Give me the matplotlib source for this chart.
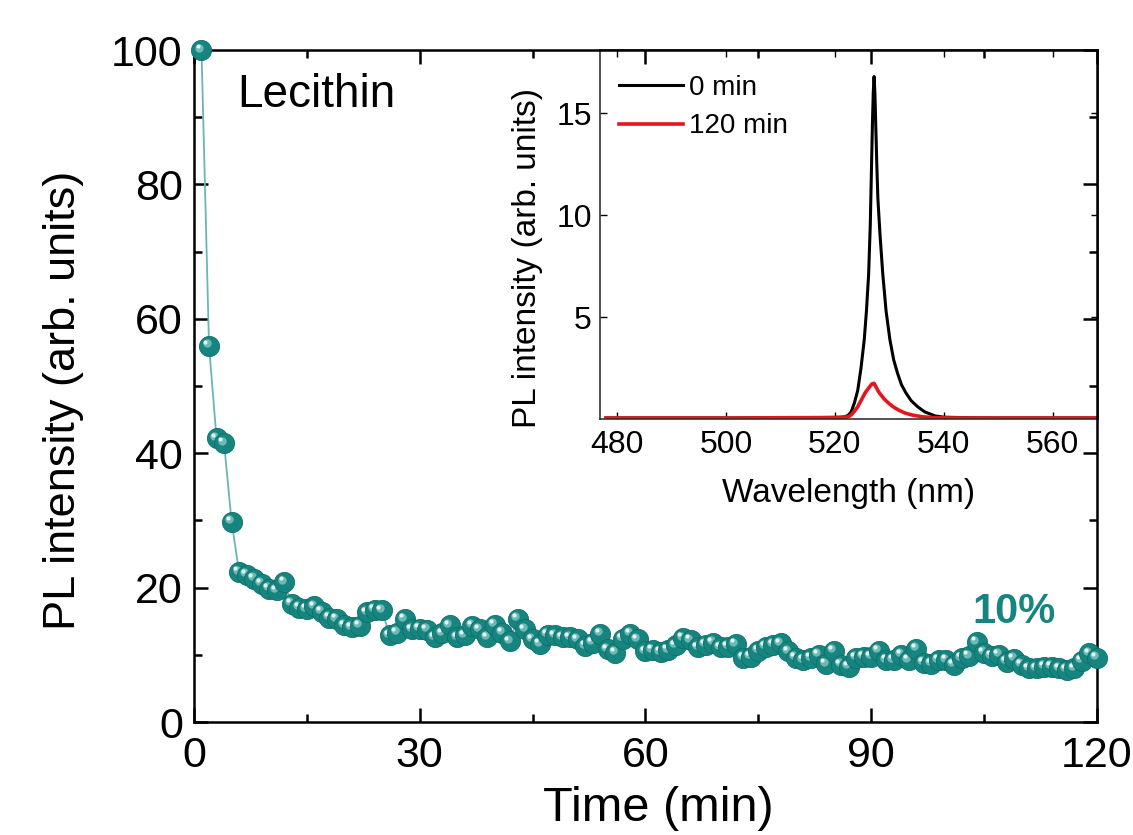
import matplotlib
matplotlib.use("Agg")
import matplotlib.pyplot as plt
from matplotlib.transforms import ScaledTranslation

plt.rcParams['font.family'] = ['Liberation Sans', 'DejaVu Sans']

# ---- main series: PL intensity vs time ----
time_min = list(range(1, 121))
pl_intensity = [
    100, 56, 42.2, 41.5, 29.8, 22.3, 21.9, 21.3, 20.6, 19.8,
    19.6, 20.8, 17.6, 17.0, 16.8, 17.2, 16.4, 15.5, 15.3, 14.4,
    14.1, 14.3, 16.3, 16.7, 16.6, 12.9, 13.3, 15.3, 13.8, 13.9,
    13.7, 12.6, 13.2, 14.4, 12.6, 12.9, 14.3, 13.8, 12.6, 14.5,
    13.3, 12.0, 15.4, 13.8, 12.3, 11.6, 13.0, 12.9, 12.6, 12.6,
    12.3, 11.3, 11.8, 13.1, 10.8, 10.3, 12.4, 13.1, 12.3, 10.5,
    10.7, 10.4, 10.7, 11.4, 12.5, 12.2, 11.1, 11.5, 11.8, 11.1,
    11.2, 11.6, 9.6, 9.7, 10.6, 11.2, 11.5, 11.7, 10.5, 9.6,
    9.2, 9.5, 10.0, 8.6, 10.6, 8.5, 8.2, 9.6, 9.7, 9.7,
    10.6, 9.2, 9.2, 10.0, 9.2, 10.9, 8.8, 8.7, 9.2, 9.2,
    8.5, 9.5, 9.8, 11.9, 10.3, 9.8, 10.0, 9.0, 9.4, 8.5,
    8.0, 8.0, 8.2, 8.2, 8.0, 7.8, 8.0, 9.1, 10.2, 9.6,
]

# ---- inset spectra ----
wl_0 = [478, 490, 500, 510, 518, 521, 522, 522.5, 523.0, 523.6, 524.2, 524.8, 525.4,
        525.8, 526.2, 526.5, 526.7, 526.9, 527.05, 527.2, 527.35, 527.5, 527.7, 527.9,
        528.3, 528.8, 529.4, 530.1, 530.8, 531.5, 532.2, 533.0, 534.0, 535.2, 536.5,
        538.4, 540, 545, 550, 560, 570]
pl_0 = [0.05, 0.05, 0.05, 0.05, 0.06, 0.08, 0.12, 0.2, 0.35, 0.8, 1.4, 2.5, 3.9,
        5.3, 7.1, 9.5, 12.0, 14.5, 16.0, 16.8, 16.0, 14.5, 12.5, 10.8,
        9.0, 7.1, 5.3, 3.9, 2.9, 2.25, 1.7, 1.3, 0.9, 0.6, 0.35,
        0.15, 0.09, 0.06, 0.05, 0.05, 0.05]
wl_120 = [478, 490, 500, 510, 518, 522, 522.6, 523.0, 523.6, 524.2, 524.9, 525.6,
          526.3, 526.8, 527.2, 527.6, 528.0, 528.4, 529.1, 529.9, 530.8, 531.7, 532.8,
          534.1, 536.0, 538.4, 545, 555, 570]
pl_120 = [0.05, 0.05, 0.05, 0.06, 0.07, 0.09, 0.13, 0.2, 0.38, 0.6, 0.95, 1.3,
          1.55, 1.72, 1.75, 1.55, 1.35, 1.2, 0.97, 0.77, 0.58, 0.44, 0.3,
          0.2, 0.11, 0.06, 0.05, 0.05, 0.05]
legend_labels = ['0 min', '120 min']

main_xticks = [0, 30, 60, 90, 120]
main_yticks = [0, 20, 40, 60, 80, 100]
inset_xticks = [480, 500, 520, 540, 560]
inset_yticks = [5, 10, 15]

teal = '#17857f'
fig = plt.figure(figsize=(11.33, 8.35), dpi=100)
fig.patch.set_facecolor('white')

# inset first (below main axes' ticks)
ins = fig.add_axes([0.5296, 0.4982, 0.4395, 0.4419], zorder=1)
ax = fig.add_axes([0.1712, 0.1353, 0.797, 0.8048], zorder=2)
ax.patch.set_alpha(0)

# ---- main plot ----
ax.plot(time_min, pl_intensity, color='#6cb6b2', lw=1.3, zorder=2)
off1 = ax.transData + ScaledTranslation(-1.8 / 72, 1.8 / 72, fig.dpi_scale_trans)
off2 = ax.transData + ScaledTranslation(-2.7 / 72, 2.7 / 72, fig.dpi_scale_trans)
for t, v in zip(time_min, pl_intensity):
    ax.plot(t, v, 'o', ms=14.5, color=teal, mec='#0e6e69', mew=0.6, zorder=3, clip_on=False)
    ax.plot(t, v, 'o', ms=6.0, color='#6fb9b5', mew=0, zorder=3, transform=off1, clip_on=False)
    ax.plot(t, v, 'o', ms=3.0, color='#e3f3f1', mew=0, zorder=3, transform=off2, clip_on=False)

ax.set_xlim(0, 120)
ax.set_ylim(0, 100)
ax.set_xticks(main_xticks)
ax.set_yticks(main_yticks)
ax.set_xticks([15, 45, 75, 105], minor=True)
ax.set_yticks([10, 30, 50, 70, 90], minor=True)
ax.tick_params(which='both', direction='in', top=True, right=True, width=1.8, labelsize=31)
ax.tick_params(which='major', length=10)
ax.tick_params(which='minor', length=6)
ax.tick_params(axis='x', pad=10)
ax.tick_params(axis='y', pad=8)
for s in ax.spines.values():
    s.set_linewidth(1.8)
ax.set_xlabel('Time (min)', fontsize=35)
ax.xaxis.set_label_coords(0.514, -0.095)
ax.set_ylabel('PL intensity (arb. units)', fontsize=32.5)
ax.yaxis.set_label_coords(-0.122, 0.479)
ax.text(5.8, 93.3, 'Lecithin', fontsize=33, va='center', ha='left')
ax.text(109, 16.4, '10%', fontsize=30, fontweight='bold', color=teal, va='center', ha='center')

# ---- inset ----
ins.set_facecolor('white')
l0, = ins.plot(wl_0, pl_0, color='black', lw=2.2, solid_joinstyle='round')
l1, = ins.plot(wl_120, pl_120, color='#e8141b', lw=2.6, solid_joinstyle='round')
ins.set_xlim(476.9, 568.3)
ins.set_ylim(0, 18.1)
ins.set_xticks(inset_xticks)
ins.set_yticks(inset_yticks)
ins.tick_params(which='both', direction='in', top=True, right=True, width=1.0, length=5,
                labelsize=23)
ins.tick_params(axis='x', pad=8)
ins.tick_params(axis='y', pad=6)
for s in ins.spines.values():
    s.set_linewidth(1.2)
    s.set_color('#333333')
ins.set_xlabel('Wavelength (nm)', fontsize=24, labelpad=13)
ins.set_ylabel('PL intensity (arb. units)', fontsize=24)
ins.yaxis.set_label_coords(-0.115, 0.436)
ins.legend([l0, l1], legend_labels, loc='upper left', frameon=False, fontsize=20,
           handlelength=2.3, handletextpad=0.2, borderaxespad=0.3, labelspacing=0.45,
           bbox_to_anchor=(0.0, 0.985))

fig.savefig('out.png', dpi=100)
